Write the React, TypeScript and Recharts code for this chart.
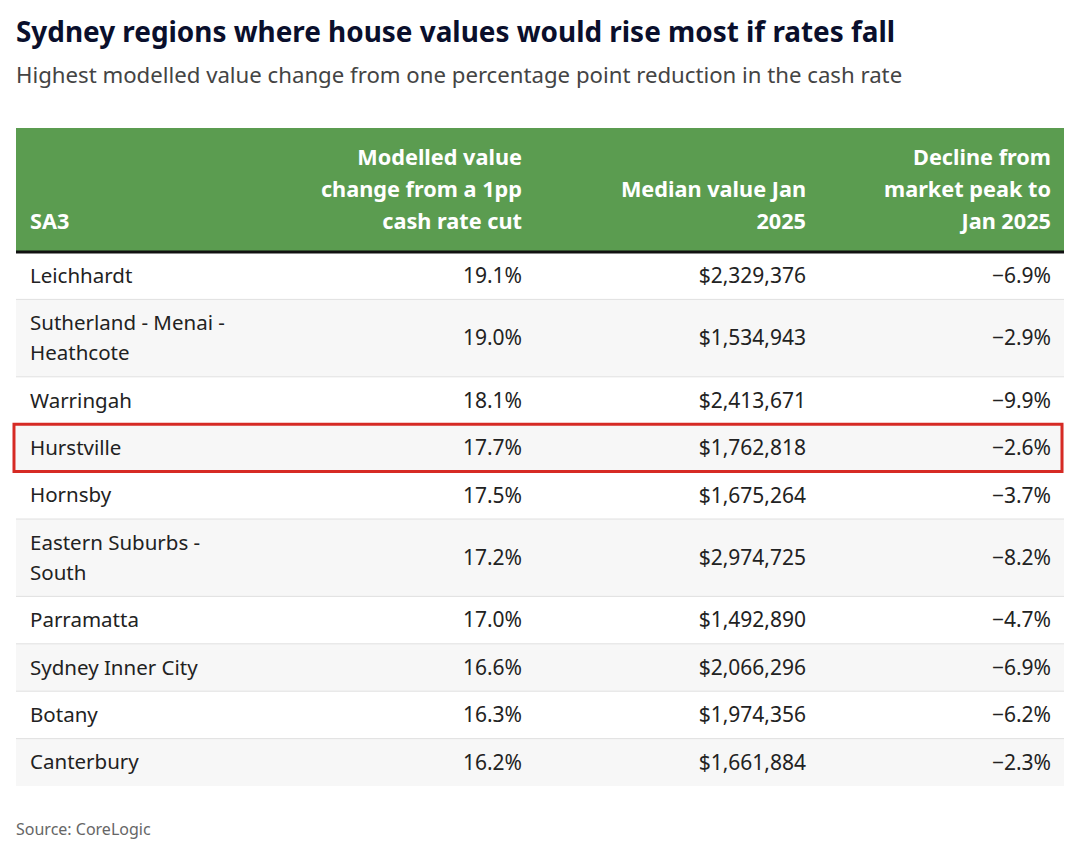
import React from 'react';
import { ComposedChart, XAxis, YAxis, Scatter, ReferenceArea, ReferenceLine } from 'recharts';

const TITLE = 'Sydney regions where house values would rise most if rates fall';
const SUBTITLE = 'Highest modelled value change from one percentage point reduction in the cash rate';
const SOURCE = 'Source: CoreLogic';

const HEADERS = [
  'SA3',
  'Modelled value\nchange from a 1pp\ncash rate cut',
  'Median value Jan\n2025',
  'Decline from\nmarket peak to\nJan 2025',
];

const REGIONS = [
  'Leichhardt',
  'Sutherland - Menai -\nHeathcote',
  'Warringah',
  'Hurstville',
  'Hornsby',
  'Eastern Suburbs -\nSouth',
  'Parramatta',
  'Sydney Inner City',
  'Botany',
  'Canterbury',
];
const VALUE_CHANGE = [19.1, 19.0, 18.1, 17.7, 17.5, 17.2, 17.0, 16.6, 16.3, 16.2];
const MEDIAN_VALUE = [2329376, 1534943, 2413671, 1762818, 1675264, 2974725, 1492890, 2066296, 1974356, 1661884];
const DECLINE = [-6.9, -2.9, -9.9, -2.6, -3.7, -8.2, -4.7, -6.9, -6.2, -2.3];
const HIGHLIGHT = 'Hurstville';

const FONT = "'Noto Sans', 'Open Sans', sans-serif";
const W = 1080;
const H = 859;
const TABLE_LEFT = 16;
const TABLE_RIGHT = 1064;
const TABLE_TOP = 128;
const TABLE_W = TABLE_RIGHT - TABLE_LEFT;
const HEADER_H = 124;
const HEADER_LINE_H = 32;
const HEADER_LAST_LINE = 93;
const LINE_H = 30;
const ROW_PAD = 17.4;
const COL_X = [14, 506, 790, 1035];
const COL_ANCHOR = ['start', 'end', 'end', 'end'];

const fmtPct = (v: number) => v.toFixed(1) + '%';
const fmtMoney = (v: number) => '$' + v.toLocaleString('en-US');
const fmtDecline = (v: number) => (v < 0 ? '\u2212' : '') + Math.abs(v).toFixed(1) + '%';

let cursor = HEADER_H;
const rows = REGIONS.map((region, i) => {
  const lines = region.split('\n');
  const h = ROW_PAD + LINE_H * lines.length;
  const row = {
    region,
    y0: cursor,
    y1: cursor + h,
    mid: cursor + h / 2,
    cells: [lines, [fmtPct(VALUE_CHANGE[i])], [fmtMoney(MEDIAN_VALUE[i])], [fmtDecline(DECLINE[i])]],
  };
  cursor += h;
  return row;
});
const TABLE_H = cursor;

const headerData = HEADERS.map((hd, c) => ({ x: COL_X[c], y: HEADER_LAST_LINE, lines: hd.split('\n'), anchor: COL_ANCHOR[c] }));
const columnData = COL_X.map((x, c) =>
  rows.map((r) => ({ x, y: r.mid, lines: r.cells[c], anchor: COL_ANCHOR[c], num: c > 0 }))
);

const bodyShape = (props: any) => {
  const { cx, cy, payload } = props;
  const lines: string[] = payload.lines;
  const n = lines.length;
  return (
    <text textAnchor={payload.anchor} fill="#222" fontSize={payload.num ? 21 : 20.5} fontFamily={FONT}>
      {lines.map((l, i) => (
        <tspan key={i} x={cx} y={cy + (i - (n - 1) / 2) * LINE_H} dy="0.35em">
          {l}
        </tspan>
      ))}
    </text>
  );
};

const headerShape = (props: any) => {
  const { cx, cy, payload } = props;
  const lines: string[] = payload.lines;
  const n = lines.length;
  return (
    <text textAnchor={payload.anchor} fill="#fff" fontSize={21.7} fontWeight={700} fontFamily={FONT}>
      {lines.map((l, i) => (
        <tspan key={i} x={cx} y={cy - (n - 1 - i) * HEADER_LINE_H} dy="0.35em">
          {l}
        </tspan>
      ))}
    </text>
  );
};

export default function App() {
  const hlIndex = rows.findIndex((r) => r.region === HIGHLIGHT);
  const hl = rows[hlIndex];
  return (
    <div style={{ position: 'absolute', left: 0, top: 0, width: W, height: H, background: '#fff', fontFamily: FONT }}>
      <div style={{ position: 'absolute', left: 16, top: 31 - 20, lineHeight: '40px', fontSize: 27.9, fontWeight: 700, color: '#0a0f2c', whiteSpace: 'nowrap' }}>
        {TITLE}
      </div>
      <div style={{ position: 'absolute', left: 16, top: 75 - 15, lineHeight: '30px', fontSize: 22.2, color: '#444', whiteSpace: 'nowrap' }}>
        {SUBTITLE}
      </div>
      <div style={{ position: 'absolute', left: 16, top: 829 - 12, lineHeight: '24px', fontSize: 16, color: '#666', whiteSpace: 'nowrap' }}>
        {SOURCE}
      </div>
      <div style={{ position: 'absolute', left: 0, top: 0 }}>
        <ComposedChart
          width={W}
          height={H}
          margin={{ top: TABLE_TOP, left: TABLE_LEFT, right: W - TABLE_RIGHT, bottom: H - TABLE_TOP - TABLE_H }}
        >
          <XAxis type="number" dataKey="x" domain={[0, TABLE_W]} allowDataOverflow hide />
          <YAxis type="number" dataKey="y" domain={[0, TABLE_H]} allowDataOverflow reversed hide />
          <ReferenceArea x1={0} x2={TABLE_W} y1={0} y2={HEADER_H} fill="#5b9c50" fillOpacity={1} stroke="none" />
          {rows.map((r, i) => (
            <ReferenceArea
              key={'bg' + i}
              x1={0}
              x2={TABLE_W}
              y1={r.y0}
              y2={r.y1}
              fill={i % 2 === 1 ? '#f7f7f7' : '#ffffff'}
              fillOpacity={1}
              stroke="none"
            />
          ))}
          {rows.slice(0, -1).map((r, i) =>
            i === hlIndex || i === hlIndex - 1 ? null : (
              <ReferenceLine key={'ln' + i} y={r.y1} stroke="#e0e0e0" strokeWidth={1} />
            )
          )}
          <ReferenceLine y={HEADER_H} stroke="#111" strokeWidth={3} />
          <ReferenceArea
            x1={-2}
            x2={TABLE_W - 2}
            y1={hl.y0}
            y2={hl.y1}
            fill="none"
            fillOpacity={0}
            stroke="#d62a24"
            strokeWidth={3}
            strokeOpacity={1}
            ifOverflow="visible"
          />
          <Scatter data={headerData} shape={headerShape} isAnimationActive={false} />
          {columnData.map((d, c) => (
            <Scatter key={'col' + c} data={d} shape={bodyShape} isAnimationActive={false} />
          ))}
        </ComposedChart>
      </div>
    </div>
  );
}
